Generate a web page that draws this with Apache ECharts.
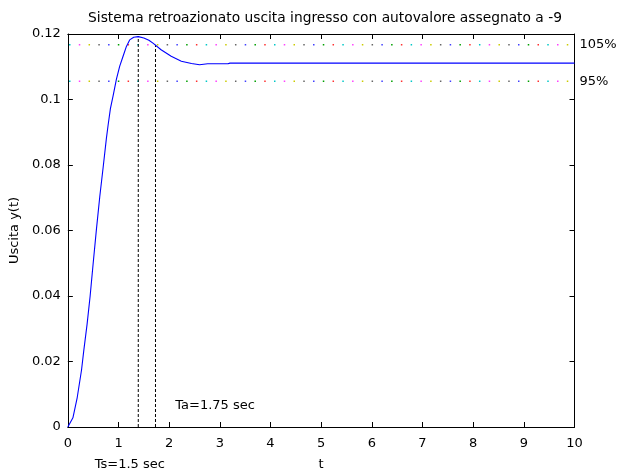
<!DOCTYPE html>
<html>
<head>
<meta charset="utf-8">
<script src="https://cdn.jsdelivr.net/npm/echarts@6/dist/echarts.min.js"></script>
<style>
  html, body { margin: 0; padding: 0; background: #ffffff; }
  #chart { width: 618px; height: 476px; }
</style>
</head>
<body>
<div id="chart"></div>
<script>
// Step response of the closed-loop system (time in seconds, output y(t))
const timeS = [0, 0.1, 0.185, 0.27, 0.315, 0.38, 0.44, 0.50, 0.565, 0.63, 0.697, 0.762, 0.795, 0.84, 0.894,
  0.959, 1.024, 1.09, 1.156, 1.22, 1.30, 1.39, 1.50, 1.60, 1.68, 1.84, 2.04, 2.24, 2.44, 2.60, 2.76, 3.16, 3.20, 10];
const output = [0, 0.0028, 0.0090, 0.0174, 0.0234, 0.0314, 0.0400, 0.0500, 0.0605, 0.0703, 0.0793, 0.0883, 0.0922, 0.0972, 0.1012,
  0.1062, 0.1102, 0.1132, 0.1162, 0.1182, 0.1190, 0.1192, 0.1188, 0.1181, 0.1172, 0.1152, 0.1132, 0.1117, 0.1110, 0.1106, 0.1109, 0.1109, 0.1111, 0.1111];

// Settling band around the steady-state value
const bandLevels = [0.1167, 0.1056];
const bandLabels = ['105%', '95%'];

// Vertical dashed markers: time and height reached
const markerTimes = [1.39, 1.73];
const markerTops = [0.1192, 0.1167];

// Text annotations in data coordinates
const noteText = ['Ts=1.5 sec', 'Ta=1.75 sec'];
const noteT = [0.53, 2.12];
const noteV = [-0.0114, 0.0066];

// Axis ticks
const xTickValues = [0, 1, 2, 3, 4, 5, 6, 7, 8, 9, 10];
const yTickValues = [0, 0.02, 0.04, 0.06, 0.08, 0.1, 0.12];

const FONT = 'DejaVu Sans';
const dotColors = ['#ff40ff', '#cccc00', '#666666', '#4040ff', '#00a000', '#ff3030', '#00c8c8'];
const dotStep = 9.76;
const dotPeriod = dotStep * dotColors.length;
const dotStart = 86.7 - 66 - 1 * dotStep; // first magenta dot offset along the line

const xMin = xTickValues[0], xMax = xTickValues[xTickValues.length - 1];
const xStep = xTickValues[1] - xTickValues[0];
const yMin = yTickValues[0], yMax = yTickValues[yTickValues.length - 1];
const yStep = yTickValues[1] - yTickValues[0];

const chart = echarts.init(document.getElementById('chart'), null, { renderer: 'canvas' });

const tickStyle = { show: true, inside: true, length: 5, lineStyle: { color: '#000', width: 1 } };
const lineStyleAxis = { show: true, onZero: false, lineStyle: { color: '#000', width: 1 } };
const labelStyle = { color: '#000', fontFamily: FONT, fontSize: 13 };

const series = [];

// Multicoloured dotted band lines
bandLevels.forEach((lvl, li) => {
  dotColors.forEach((c, ci) => {
    const start = dotStart + ci * dotStep;
    series.push({
      type: 'line',
      xAxisIndex: 0, yAxisIndex: 0,
      data: [[xMin, lvl], [xMax, lvl]],
      symbol: 'none',
      silent: true,
      animation: false,
      lineStyle: { color: c, width: 1.5, type: [1.5, dotPeriod - 1.5], dashOffset: dotPeriod - (start % dotPeriod) },
      endLabel: ci === 0 ? {
        show: true, formatter: bandLabels[li], distance: 5,
        color: '#000', fontFamily: FONT, fontSize: 13
      } : { show: false },
      z: 2
    });
  });
});

// Dashed vertical markers
markerTimes.forEach((t, i) => {
  series.push({
    type: 'line',
    data: [[t, yMin], [t, markerTops[i]]],
    symbol: 'none',
    silent: true,
    animation: false,
    lineStyle: { color: '#000', width: 1, type: [3, 2] },
    z: 3
  });
});

// Response curve
series.push({
  type: 'line',
  data: timeS.map((t, i) => [t, output[i]]),
  symbol: 'none',
  silent: true,
  animation: false,
  lineStyle: { color: '#0000ff', width: 1.1 },
  z: 4
});

const option = {
  backgroundColor: '#fff',
  animation: false,
  title: {
    text: 'Sistema retroazionato uscita ingresso con autovalore assegnato a -9',
    left: 320, top: 6, textAlign: 'center',
    textStyle: { color: '#000', fontFamily: FONT, fontSize: 13.8, fontWeight: 'normal' }
  },
  grid: { left: 66, right: 43.5, top: 34, bottom: 41, containLabel: false },
  xAxis: [
    {
      type: 'value', position: 'bottom', min: xMin, max: xMax, interval: xStep,
      name: 't', nameLocation: 'middle', nameGap: 31,
      nameTextStyle: labelStyle,
      axisLine: lineStyleAxis, axisTick: tickStyle,
      axisLabel: Object.assign({ margin: 10 }, labelStyle),
      splitLine: { show: false }
    },
    {
      type: 'value', position: 'top', min: xMin, max: xMax, interval: xStep,
      axisLine: lineStyleAxis, axisTick: tickStyle,
      axisLabel: { show: false }, splitLine: { show: false }
    }
  ],
  yAxis: [
    {
      type: 'value', position: 'left', min: yMin, max: yMax, interval: yStep,
      name: 'Uscita y(t)', nameLocation: 'middle', nameGap: 46,
      nameTextStyle: labelStyle,
      axisLine: lineStyleAxis, axisTick: tickStyle,
      axisLabel: Object.assign({ margin: 7, formatter: v => String(+v.toFixed(2)) }, labelStyle),
      splitLine: { show: false }
    },
    {
      type: 'value', position: 'right', min: yMin, max: yMax, interval: yStep,
      axisLine: lineStyleAxis, axisTick: tickStyle,
      axisLabel: { show: false }, splitLine: { show: false }
    }
  ],
  series: series
};

chart.setOption(option);

// Place the annotations from their data coordinates
const notes = noteText.map((txt, i) => {
  const p = chart.convertToPixel({ gridIndex: 0 }, [noteT[i], noteV[i]]);
  return {
    type: 'text', x: p[0], y: p[1], silent: true,
    style: { text: txt, fill: '#000', font: '13px "' + FONT + '"', textAlign: 'left', textVerticalAlign: 'middle' }
  };
});
chart.setOption({ graphic: notes });
</script>
</body>
</html>
